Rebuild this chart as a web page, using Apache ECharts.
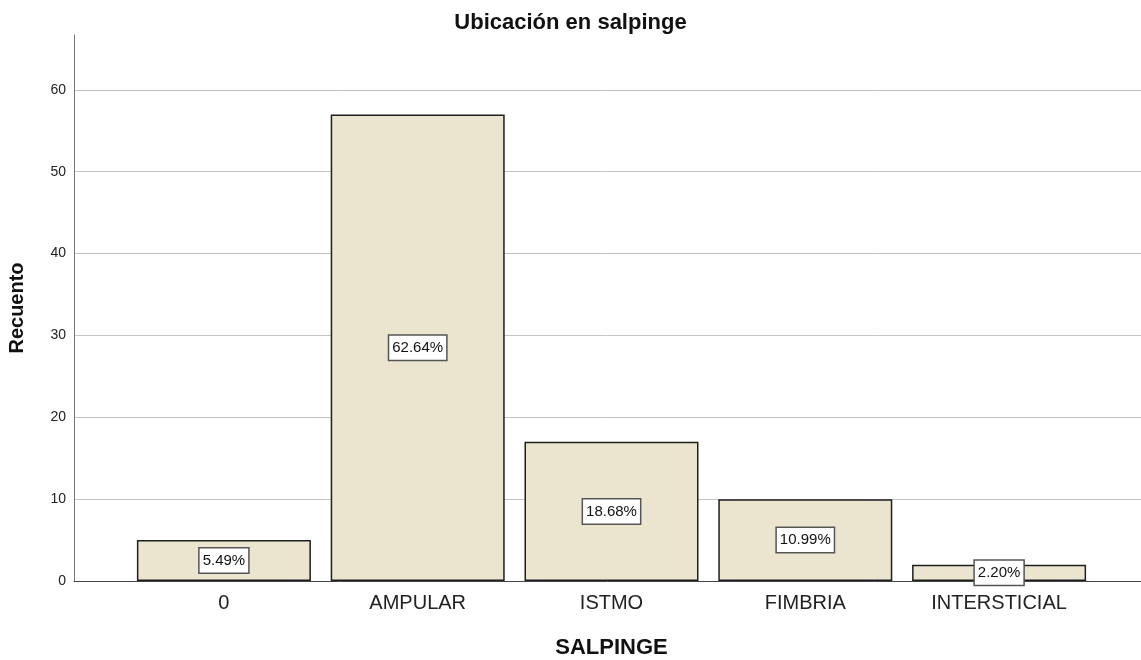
<!DOCTYPE html>
<html>
<head>
<meta charset="utf-8">
<script src="https://cdn.jsdelivr.net/npm/echarts@6/dist/echarts.min.js"></script>
<style>
  html, body { margin: 0; padding: 0; background: #fff; }
  #chart { width: 1141px; height: 660px; }
</style>
</head>
<body>
<div id="chart"></div>
<script>
// data
const categories = ['0', 'AMPULAR', 'ISTMO', 'FIMBRIA', 'INTERSTICIAL'];
const counts = [5, 57, 17, 10, 2];
const yTicks = [0, 10, 20, 30, 40, 50, 60];

const total = counts.reduce((a, b) => a + b, 0);
const FONT = '"Liberation Sans", Arial, sans-serif';

const chart = echarts.init(document.getElementById('chart'));

const yMax = 66.7;
// last tick is the axis top, hide its split line
const splitColors = yTicks.map(() => '#c4c4c4').concat(['rgba(0,0,0,0)']);

chart.setOption({
    animation: false,
    title: {
        text: 'Ubicación en salpinge',
        left: 'center',
        top: 7,
        textStyle: { fontFamily: FONT, fontSize: 22, fontWeight: 'bold', color: '#111' }
    },
    grid: [
        // frame: y axis, gridlines, baseline
        { left: 74, right: 0, top: 35, bottom: 79, outerBoundsMode: 'none', containLabel: false },
        // bars
        { left: 127, right: 45, top: 35, bottom: 79, outerBoundsMode: 'none', containLabel: false }
    ],
    xAxis: [
        {
            gridIndex: 0,
            type: 'value',
            min: 0,
            max: 1,
            axisLine: { show: true, onZero: false, lineStyle: { color: '#444', width: 1 } },
            axisTick: { show: false },
            axisLabel: { show: false },
            splitLine: { show: false }
        },
        {
            gridIndex: 1,
            type: 'category',
            data: categories,
            axisLine: { show: false },
            axisTick: { show: false },
            axisLabel: {
                margin: 12,
                fontFamily: FONT,
                fontSize: 20,
                color: '#222'
            },
            name: 'SALPINGE',
            nameLocation: 'middle',
            nameGap: 56,
            nameTextStyle: { fontFamily: FONT, fontSize: 22, fontWeight: 'bold', color: '#111' }
        }
    ],
    yAxis: [
        {
            gridIndex: 0,
            type: 'value',
            min: 0,
            max: yMax,
            interval: 10,
            axisLine: { show: true, lineStyle: { color: '#777', width: 1 } },
            axisTick: { show: false },
            axisLabel: {
                showMaxLabel: false,
                margin: 8,
                fontFamily: FONT,
                fontSize: 14,
                color: '#222'
            },
            splitLine: { show: true, lineStyle: { color: splitColors, width: 1 } },
            name: 'Recuento',
            nameLocation: 'middle',
            nameGap: 47,
            nameTextStyle: { fontFamily: FONT, fontSize: 20, fontWeight: 'bold', color: '#111' }
        },
        {
            gridIndex: 1,
            type: 'value',
            min: 0,
            max: yMax,
            show: false
        }
    ],
    series: [{
        type: 'bar',
        xAxisIndex: 1,
        yAxisIndex: 1,
        data: counts,
        barWidth: 174,
        itemStyle: {
            color: '#ebe4cf',
            borderColor: '#1e1e1e',
            borderWidth: 1.5
        },
        label: {
            show: true,
            position: 'inside',
            formatter: (p) => (p.value / total * 100).toFixed(2) + '%',
            fontFamily: FONT,
            fontSize: 15,
            lineHeight: 17,
            color: '#111',
            backgroundColor: '#fff',
            borderColor: '#555',
            borderWidth: 1.5,
            padding: [4, 3, 3, 3]
        },
        z: 3
    }]
});
</script>
</body>
</html>
